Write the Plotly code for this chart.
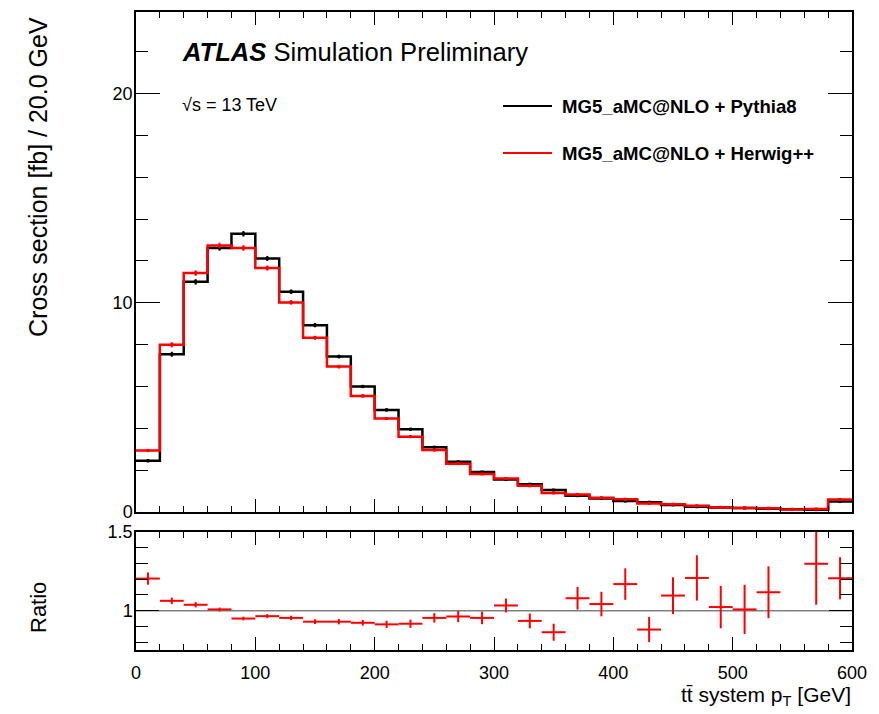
import plotly.graph_objects as go

# ---------------- data ----------------
bin_edges = [0, 20, 40, 60, 80, 100, 120, 140, 160, 180, 200, 220, 240, 260, 280,
             300, 320, 340, 360, 380, 400, 420, 440, 460, 480, 500, 520, 540, 560, 580, 600]

pythia8 = [2.45, 7.54, 11.0, 12.62, 13.3, 12.12, 10.53, 8.93, 7.43, 6.0,
           4.88, 3.96, 3.1, 2.4, 1.91, 1.55, 1.33, 1.05, 0.78, 0.65,
           0.52, 0.47, 0.34, 0.25, 0.22, 0.19, 0.16, 0.13, 0.11, 0.5]
pythia8_err = [0.08, 0.12, 0.13, 0.13, 0.13, 0.12, 0.11, 0.1, 0.09, 0.08,
               0.07, 0.06, 0.05, 0.05, 0.04, 0.04, 0.04, 0.03, 0.03, 0.03,
               0.03, 0.02, 0.02, 0.02, 0.02, 0.02, 0.02, 0.02, 0.02, 0.03]

herwig = [2.94, 7.99, 11.42, 12.74, 12.62, 11.66, 10.02, 8.33, 6.95, 5.55,
          4.47, 3.6, 2.96, 2.31, 1.82, 1.6, 1.25, 0.91, 0.84, 0.68,
          0.61, 0.41, 0.37, 0.3, 0.22, 0.19, 0.18, 0.12, 0.14, 0.6]
herwig_err = [0.08, 0.12, 0.13, 0.13, 0.13, 0.12, 0.11, 0.1, 0.09, 0.08,
              0.07, 0.06, 0.05, 0.05, 0.04, 0.04, 0.04, 0.03, 0.03, 0.03,
              0.03, 0.02, 0.02, 0.02, 0.02, 0.02, 0.02, 0.02, 0.02, 0.03]

ratio = [1.204, 1.0625, 1.0375, 1.008, 0.95, 0.965, 0.954, 0.93, 0.93, 0.923,
         0.913, 0.917, 0.954, 0.963, 0.954, 1.033, 0.935, 0.863, 1.079, 1.042,
         1.169, 0.88, 1.096, 1.208, 1.023, 1.008, 1.117, None, 1.298, 1.206]
ratio_err = [0.039, 0.02, 0.017, 0.012, 0.012, 0.013, 0.014, 0.015, 0.017, 0.018,
             0.023, 0.026, 0.03, 0.036, 0.04, 0.044, 0.047, 0.054, 0.072, 0.078,
             0.1, 0.08, 0.117, 0.144, 0.135, 0.156, 0.165, None, 0.26, 0.134]

x_ticks = [0, 100, 200, 300, 400, 500, 600]
y_ticks_main = [0, 10, 20]
y_ticks_ratio = [1, 1.5]

# ---------------- geometry helpers (screen pixels) ----------------
W, H = 879, 714
OFF = 8                      # page offset of the plot div
L, R, T, B = 136, 852, 12, 650


def px(X):
    return (X - L) / (R - L)


def py(Y):
    return (B - Y) / (B - T)


FONT = "Liberation Sans, Arial, Helvetica, sans-serif"
centers = [(a + b) / 2 for a, b in zip(bin_edges[:-1], bin_edges[1:])]
half_w = [(b - a) / 2 for a, b in zip(bin_edges[:-1], bin_edges[1:])]

fig = go.Figure()

# step histograms
for vals, errs, col, name in [(pythia8, pythia8_err, "black", "MG5_aMC@NLO + Pythia8"),
                              (herwig, herwig_err, "#ff0000", "MG5_aMC@NLO + Herwig++")]:
    fig.add_trace(go.Scatter(
        x=bin_edges, y=vals + [vals[-1]], mode="lines", line_shape="hv",
        line=dict(color=col, width=2.5), name=name, showlegend=False,
        xaxis="x", yaxis="y"))
    fig.add_trace(go.Scatter(
        x=centers, y=vals, mode="markers",
        marker=dict(color=col, size=3, symbol="square"),
        error_y=dict(type="data", array=errs, color=col, thickness=2, width=0),
        showlegend=False, xaxis="x", yaxis="y"))

# ratio points
fig.add_trace(go.Scatter(
    x=centers, y=ratio, mode="markers",
    marker=dict(color="#ff0000", size=1),
    error_x=dict(type="data", array=half_w, color="#ff0000", thickness=2, width=0),
    error_y=dict(type="data", array=ratio_err, color="#ff0000", thickness=2, width=0),
    showlegend=False, xaxis="x2", yaxis="y2", cliponaxis=True))

split_main = py(512)
split_ratio = py(532)

axis_common = dict(showline=True, linecolor="black", linewidth=1.5, mirror="ticks",
                   showgrid=False, zeroline=False, ticks="inside", tickcolor="black",
                   tickwidth=1.2, automargin=False,
                   tickfont=dict(family=FONT, size=18, color="black"))

fig.update_layout(
    width=W, height=H,
    margin=dict(l=L - OFF, r=W - (R - OFF), t=T - OFF, b=H - (B - OFF), pad=0, autoexpand=False),
    paper_bgcolor="white", plot_bgcolor="white",
    showlegend=False,
    font=dict(family=FONT, color="black"),
    xaxis=dict(domain=[0, 1], range=[0, 600], anchor="y", tickvals=x_ticks,
               ticklen=13, showticklabels=False, matches="x2",
               minor=dict(dtick=20, ticklen=6, ticks="inside", tickcolor="black", tickwidth=1.2),
               **axis_common),
    yaxis=dict(domain=[split_main, 1], range=[0, 23.9], anchor="x", tickvals=y_ticks_main,
               ticklen=24, ticklabelstandoff=-2,
               minor=dict(dtick=2, ticklen=12, ticks="inside", tickcolor="black", tickwidth=1.2),
               **axis_common),
    xaxis2=dict(domain=[0, 1], range=[0, 600], anchor="y2", tickvals=x_ticks,
                ticklen=13, ticklabelstandoff=6,
                minor=dict(dtick=20, ticklen=6, ticks="inside", tickcolor="black", tickwidth=1.2),
                **axis_common),
    yaxis2=dict(domain=[0, split_ratio], range=[0.75, 1.5], anchor="x2",
                tickvals=y_ticks_ratio, ticklen=23, ticklabelstandoff=-2,
                minor=dict(dtick=0.1, tick0=0, ticklen=12, ticks="inside", tickcolor="black", tickwidth=1.2),
                **axis_common),
)

# reference line at ratio 1
fig.add_shape(type="line", xref="x2 domain", yref="y2", x0=0, x1=1, y0=1, y1=1,
              line=dict(color="#808080", width=1.5), layer="below")

# legend (drawn manually, ROOT style)
for Y, col in [(106, "black"), (153, "#ff0000")]:
    fig.add_shape(type="line", xref="paper", yref="paper",
                  x0=px(503), x1=px(552), y0=py(Y), y1=py(Y),
                  line=dict(color=col, width=2))
fig.add_annotation(xref="paper", yref="paper", x=px(560), y=py(106), xanchor="left",
                   yanchor="middle", showarrow=False, text="<b>MG5_aMC@NLO + Pythia8</b>",
                   font=dict(family=FONT, size=18.6, color="black"))
fig.add_annotation(xref="paper", yref="paper", x=px(560), y=py(153), xanchor="left",
                   yanchor="middle", showarrow=False, text="<b>MG5_aMC@NLO + Herwig++</b>",
                   font=dict(family=FONT, size=18.6, color="black"))

# ATLAS label
fig.add_annotation(xref="paper", yref="paper", x=px(180), y=py(52), xanchor="left",
                   yanchor="middle", showarrow=False,
                   text="<b><i>ATLAS</i></b> Simulation Preliminary",
                   font=dict(family=FONT, size=25.6, color="black"))
fig.add_annotation(xref="paper", yref="paper", x=px(180), y=py(105), xanchor="left",
                   yanchor="middle", showarrow=False, text="√s = 13 TeV",
                   font=dict(family=FONT, size=18, color="black"))

# axis titles
fig.add_annotation(xref="paper", yref="paper", x=px(38), y=py(177), xanchor="center",
                   yanchor="middle", showarrow=False, textangle=-90,
                   text="Cross section [fb] / 20.0 GeV",
                   font=dict(family=FONT, size=25, color="black"))
fig.add_annotation(xref="paper", yref="paper", x=px(38), y=py(608), xanchor="center",
                   yanchor="middle", showarrow=False, textangle=-90, text="Ratio",
                   font=dict(family=FONT, size=22, color="black"))
fig.add_annotation(xref="paper", yref="paper", x=px(853), y=py(696), xanchor="right",
                   yanchor="middle", showarrow=False,
                   text="tt\u0304 system p<sub>T</sub> [GeV]",
                   font=dict(family=FONT, size=21, color="black"))

fig.write_html("out.html")
